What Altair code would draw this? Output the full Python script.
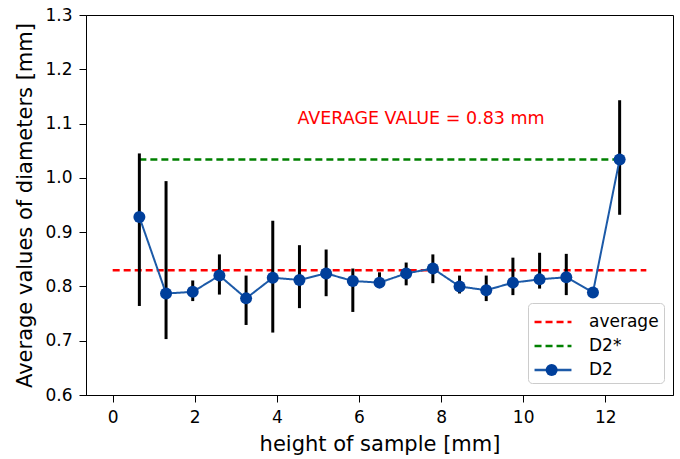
import altair as alt
import pandas as pd

# ---- data ----
heights = [0.65, 1.30, 1.95, 2.60, 3.25, 3.90, 4.55, 5.20, 5.85, 6.50,
           7.15, 7.80, 8.45, 9.10, 9.75, 10.40, 11.05, 11.70, 12.35]
d2_mean = [0.928, 0.787, 0.790, 0.820, 0.778, 0.816, 0.812, 0.824, 0.810, 0.807,
           0.824, 0.833, 0.800, 0.793, 0.807, 0.813, 0.817, 0.789, 1.034]
d2_low = [0.764, 0.703, 0.773, 0.785, 0.729, 0.715, 0.760, 0.782, 0.753, 0.800,
          0.802, 0.806, 0.787, 0.773, 0.784, 0.796, 0.784, 0.786, 0.932]
d2_high = [1.045, 0.994, 0.811, 0.859, 0.820, 0.921, 0.876, 0.868, 0.833, 0.826,
           0.844, 0.859, 0.820, 0.820, 0.853, 0.862, 0.860, 0.792, 1.143]

average_x = [0, 13]
average_y = [0.83, 0.83]
d2star_x = [0.65, 12.35]
d2star_y = [1.034, 1.034]

series_names = ["average", "D2*", "D2"]
series_colors = ["#ff0000", "#008000", "#1c5aa8"]
marker_color = "#003f9b"

annotation_text = ["AVERAGE VALUE = 0.83 mm"]
annotation_x = [4.5]
annotation_y = [1.1]

x_ticks = [0, 2, 4, 6, 8, 10, 12]
y_ticks = [0.6, 0.7, 0.8, 0.9, 1.0, 1.1, 1.2, 1.3]

FONT = "DejaVu Sans"

# ---- tables ----
ref_df = pd.DataFrame({
    "x": average_x + d2star_x,
    "y": average_y + d2star_y,
    "series": ["average"] * 2 + ["D2*"] * 2,
})
d2_df = pd.DataFrame({
    "x": heights, "y": d2_mean, "lo": d2_low, "hi": d2_high,
    "series": ["D2"] * len(heights),
    "marker": ["D2"] * len(heights),
})
txt_df = pd.DataFrame({"x": annotation_x, "y": annotation_y, "t": annotation_text})

xscale = alt.Scale(domain=[-0.65, 13.65], nice=False, zero=False)
yscale = alt.Scale(domain=[0.6, 1.3], nice=False, zero=False)

xaxis = alt.Axis(values=x_ticks, title="height of sample [mm]", grid=False, format="d")
yaxis = alt.Axis(values=y_ticks, title="Average values of diameters [mm]", grid=False, format=".1f")

color_scale = alt.Scale(domain=series_names, range=series_colors)
dash_scale = alt.Scale(domain=series_names, range=[[7, 4], [7, 4], [1, 0]])

legend = alt.Legend(
    title=None, orient="none", legendX=442, legendY=288,
    symbolType="M-1.46,0H1.46", symbolSize=640, symbolStrokeWidth=2.5,
    symbolOffset=6, labelOffset=22,
    labelFontSize=17, labelFont=FONT, labelColor="black",
    fillColor="white", strokeColor="#cccccc", cornerRadius=4, padding=5,
    rowPadding=2,
)

marker_legend = alt.Legend(
    title=None, orient="none", legendX=459.65, legendY=349,
    symbolSize=144, symbolFillColor=marker_color, symbolStrokeColor=marker_color,
    symbolStrokeWidth=0, symbolOpacity=1, symbolOffset=0,
    labelOpacity=0, labelFontSize=1, labelOffset=0, padding=0, rowPadding=0,
)

x_enc = alt.X("x:Q", scale=xscale, axis=xaxis)
y_enc = alt.Y("y:Q", scale=yscale, axis=yaxis)

ref_lines = alt.Chart(ref_df).mark_line(strokeWidth=2.5).encode(
    x=x_enc, y=y_enc,
    color=alt.Color("series:N", scale=color_scale, legend=legend),
    strokeDash=alt.StrokeDash("series:N", scale=dash_scale, legend=legend),
    detail="series:N",
)

err = alt.Chart(d2_df).mark_rule(color="black", strokeWidth=3).encode(
    x=x_enc, y=alt.Y("lo:Q", scale=yscale, axis=yaxis), y2="hi:Q",
)

d2_line = alt.Chart(d2_df).mark_line(strokeWidth=2).encode(
    x=x_enc, y=y_enc,
    color=alt.Color("series:N", scale=color_scale, legend=legend),
    strokeDash=alt.StrokeDash("series:N", scale=dash_scale, legend=legend),
)

d2_points = alt.Chart(d2_df).mark_point(size=144, opacity=1, filled=True, color=marker_color).encode(
    x=x_enc, y=y_enc,
    shape=alt.Shape("marker:N", scale=alt.Scale(domain=["D2"], range=["circle"]), legend=marker_legend),
)

annot = alt.Chart(txt_df).mark_text(
    align="left", baseline="alphabetic", color="#ff0000", fontSize=17.5, font=FONT,
).encode(x=x_enc, y=y_enc, text="t:N")

chart = alt.layer(ref_lines, err, d2_line, d2_points, annot).properties(
    width=587, height=380,
    autosize=alt.AutoSizeParams(type="none"),
    padding={"left": 86, "top": 15, "right": 7, "bottom": 64},
).configure_view(
    stroke="black", strokeWidth=1,
).configure_axis(
    labelFont=FONT, titleFont=FONT, labelFontSize=17, titleFontSize=21,
    titleFontWeight="normal", labelColor="black", titleColor="black",
    domainColor="black", tickColor="black", tickSize=7, domainWidth=1,
).configure_axisX(
    labelPadding=7, titlePadding=8,
).configure_axisY(
    labelPadding=7, titlePadding=9,
)

chart.save("out.html", embed_options={"renderer": "svg", "actions": False})
